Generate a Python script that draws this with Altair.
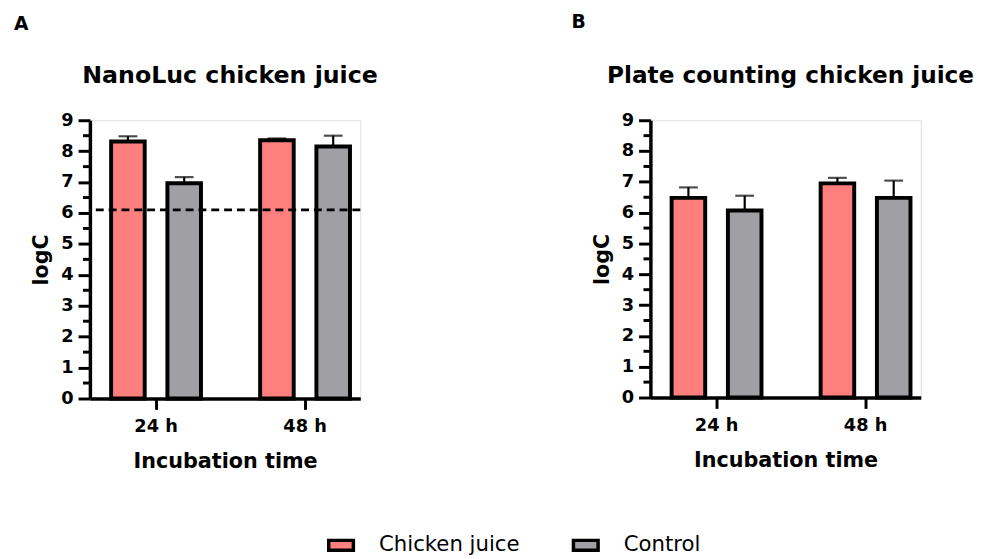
import altair as alt
import pandas as pd

# ---- data ----
times = ["24 h", "48 h"]
groups = ["Chicken juice", "Control"]
colors = ["#FF7F7F", "#A0A0A4"]

nanoluc_mean = [8.31, 6.96, 8.35, 8.15]
nanoluc_err = [0.17, 0.20, 0.06, 0.35]
plate_mean = [6.48, 6.07, 6.95, 6.48]
plate_err = [0.34, 0.48, 0.18, 0.56]
detection_limit = 6.1

y_ticks = [0, 1, 2, 3, 4, 5, 6, 7, 8, 9]
y_minor = [0.5, 1.5, 2.5, 3.5, 4.5, 5.5, 6.5, 7.5, 8.5]

FONT = "DejaVu Sans"
W = 274


def frame(means, errs):
    rows = []
    i = 0
    for t in times:
        for g in groups:
            rows.append({"time": t, "group": g, "mean": means[i],
                         "upper": means[i] + errs[i]})
            i += 1
    return pd.DataFrame(rows)


def panel(df, title, title_size, letter, letter_x, letter_y, height, limit=None):
    x = alt.X("time:N", sort=times, title="Incubation time",
              scale=alt.Scale(paddingInner=0.397, paddingOuter=0.1058, align=0.673),
              axis=alt.Axis(labelAngle=0, labelFont=FONT, labelFontSize=18,
                            labelFontWeight="bold", labelColor="black",
                            labelPadding=8, tickSize=11, tickWidth=3,
                            tickColor="black", domainWidth=3.5,
                            domainColor="black", titleFont=FONT,
                            titleFontSize=21, titleFontWeight="bold",
                            titleColor="black", titlePadding=16, grid=False))
    xo = alt.XOffset("group:N", sort=groups,
                     scale=alt.Scale(paddingInner=0.4035, paddingOuter=0))
    yscale = alt.Scale(domain=[0, 9], nice=False, zero=True)
    yaxis = alt.Axis(values=y_ticks, format="d", labelFont=FONT,
                     labelFontSize=18, labelFontWeight="bold",
                     labelColor="black", labelPadding=5, tickSize=12,
                     labelOverlap=False, labelBound=False,
                     tickWidth=3, tickColor="black", domainWidth=3.5,
                     domainColor="black", titleFont=FONT,
                     titleFontSize=21, titleFontWeight="bold",
                     titleColor="black", titlePadding=9, grid=False)

    def yenc(field):
        return alt.Y(field, scale=yscale, title="logC", axis=yaxis)

    base = alt.Chart(df)
    bars = base.mark_bar(stroke="black", strokeWidth=4, fillOpacity=1).encode(
        x=x, xOffset=xo, y=yenc("mean:Q"),
        color=alt.Color("group:N", sort=groups,
                        scale=alt.Scale(domain=groups, range=colors),
                        legend=alt.Legend(orient="none", legendX=240, legendY=416,
                                          direction="horizontal", title=None,
                                          symbolType="M-1,-0.4H1V0.4H-1Z",
                                          symbolSize=625, symbolStrokeColor="black",
                                          symbolStrokeWidth=3.5, symbolOpacity=1,
                                          labelFont=FONT, labelFontSize=21.5,
                                          labelColor="black", labelOffset=24,
                                          columnPadding=47, padding=0)))
    err = base.mark_rule(color="black", strokeWidth=2.2).encode(
        x=x, xOffset=xo, y=yenc("mean:Q"), y2="upper:Q")
    cap = base.mark_tick(color="black", size=19, thickness=2.2).encode(
        x=x, xOffset=xo, y=yenc("upper:Q"))
    minor = alt.Chart(pd.DataFrame({"m": y_minor})).mark_rule(
        color="black", strokeWidth=3).encode(
        y=yenc("m:Q"), x=alt.value(-7), x2=alt.value(0))
    ttl = alt.Chart(pd.DataFrame({"t": [title]})).mark_text(
        font=FONT, fontSize=title_size, fontWeight="bold", color="black",
        align="center", baseline="alphabetic").encode(
        text="t:N", x=alt.value(142), y=alt.value(-38))
    let = alt.Chart(pd.DataFrame({"t": [letter]})).mark_text(
        font=FONT, fontSize=19, fontWeight="bold", color="black",
        align="left", baseline="alphabetic").encode(
        text="t:N", x=alt.value(letter_x), y=alt.value(letter_y))

    layers = [bars, err, cap, minor]
    if limit is not None:
        dash = alt.Chart(pd.DataFrame({"v": [limit]})).mark_rule(
            color="black", strokeWidth=2.7, strokeDash=[8, 5]).encode(
            y=yenc("v:Q"))
        layers.append(dash)
    layers += [ttl, let]
    return alt.layer(*layers).properties(width=W, height=height)


chart_a = panel(frame(nanoluc_mean, nanoluc_err), "NanoLuc chicken juice", 24,
                "A", -77, -91, 282, limit=detection_limit)
chart_b = panel(frame(plate_mean, plate_err), "Plate counting chicken juice", 23.5,
                "B", -80, -93, 281)

chart = alt.hconcat(chart_a, chart_b, spacing=194).properties(
    padding={"left": 5, "top": 1, "right": 5, "bottom": 5}
).configure_view(stroke=None).configure(background="white", font=FONT)

chart.save("out.html", embed_options={"renderer": "svg", "actions": False})
